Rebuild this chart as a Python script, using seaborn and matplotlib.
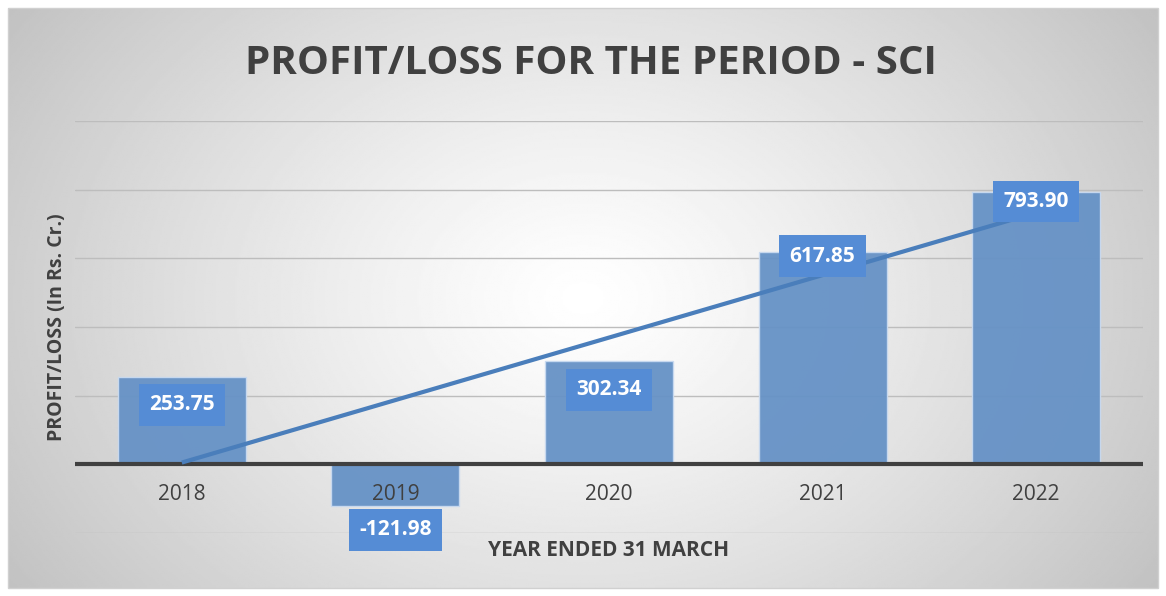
import numpy as np
import pandas as pd
import matplotlib.pyplot as plt
import seaborn as sns
from matplotlib.patches import Rectangle

# Data
years = ['2018', '2019', '2020', '2021', '2022']
profit = [253.75, -121.98, 302.34, 617.85, 793.90]
label_text = ['253.75', '-121.98', '302.34', '617.85', '793.90']

# Style
bar_color = '#6692c6'
box_color = '#558cd5'
trend_color = '#4a7ebb'
text_dark = '#404040'
# vertical offset of each data label from the bar end (points)
label_offsets = [-20, -17, -21, -3, -7]

sns.set_theme(style='white')
plt.rcParams['font.family'] = ['Open Sans', 'DejaVu Sans']

df = pd.DataFrame({'Year': years, 'Profit': profit})

fig = plt.figure(figsize=(11.66, 5.96), dpi=100)
fig.patch.set_facecolor('white')

# Radial gradient background of the chart area
bg = fig.add_axes([8 / 1166, 8 / 596, 1150 / 1166, 580 / 596])
yy, xx = np.mgrid[0:1:300j, 0:1:600j]
r = np.sqrt(((xx - 0.5) / 0.5) ** 2 + ((yy - 0.5) / 0.75) ** 2)
shade = 1.0 - 0.24 * np.clip(r / 1.2, 0, 1) ** 1.2
bg.imshow(shade, cmap='gray', vmin=0, vmax=1, aspect='auto',
          extent=[0, 1, 0, 1], origin='lower')
bg.set_axis_off()
fig.patches.append(Rectangle((8 / 1166, 8 / 596), 1150 / 1166, 580 / 596,
                             transform=fig.transFigure, fill=False,
                             edgecolor='#d0d0d0', linewidth=1))

ax = fig.add_axes([75 / 1166, 63 / 596, 1068 / 1166, 412 / 596])
ax.set_facecolor('none')

sns.barplot(data=df, x='Year', y='Profit', color=bar_color, width=0.6,
            saturation=1, alpha=0.95, edgecolor='#c9daf0', linewidth=1,
            ax=ax, zorder=2)

# Linear trendline
xs = np.arange(len(profit))
slope, intercept = np.polyfit(xs, profit, 1)
ax.plot(xs, slope * xs + intercept, color=trend_color, linewidth=3,
        zorder=4, solid_capstyle='butt')

ax.set_ylim(-200, 1000)
ax.set_xlim(-0.5, len(years) - 0.5)
ax.set_yticks(np.arange(-200, 1001, 200))
ax.yaxis.grid(True, color='#bdbdbd', linewidth=1, zorder=0)
ax.set_axisbelow(True)
ax.tick_params(axis='y', left=False, labelleft=False)
ax.axhline(0, color=text_dark, linewidth=3, zorder=3)
for s in ax.spines.values():
    s.set_visible(False)

# x tick labels placed under the zero line
ax.tick_params(axis='x', bottom=False, labelbottom=False)
for i, y in enumerate(years):
    ax.annotate(y, (i, 0), xytext=(0, -22), textcoords='offset points',
                ha='center', va='center', fontsize=15, color=text_dark,
                zorder=5)

# Data labels
for i, (v, t) in enumerate(zip(profit, label_text)):
    ax.annotate(t, (i, v), xytext=(0, label_offsets[i]),
                textcoords='offset points', ha='center', va='center',
                fontsize=15, fontweight='bold', color='white', zorder=6,
                bbox=dict(boxstyle='square,pad=0.5', facecolor=box_color,
                          edgecolor='none'))

ax.set_xlabel('YEAR ENDED 31 MARCH', fontsize=15, fontweight='bold',
              color=text_dark, labelpad=5)
ax.set_ylabel('PROFIT/LOSS (In Rs. Cr.)', fontsize=14, fontweight='bold',
              color=text_dark, labelpad=6)

fig.text(591 / 1166, 1 - 64 / 596, 'PROFIT/LOSS FOR THE PERIOD - SCI',
         ha='center', va='center', fontsize=29, fontweight='bold',
         color=text_dark)

fig.savefig('out.png', dpi=100)
